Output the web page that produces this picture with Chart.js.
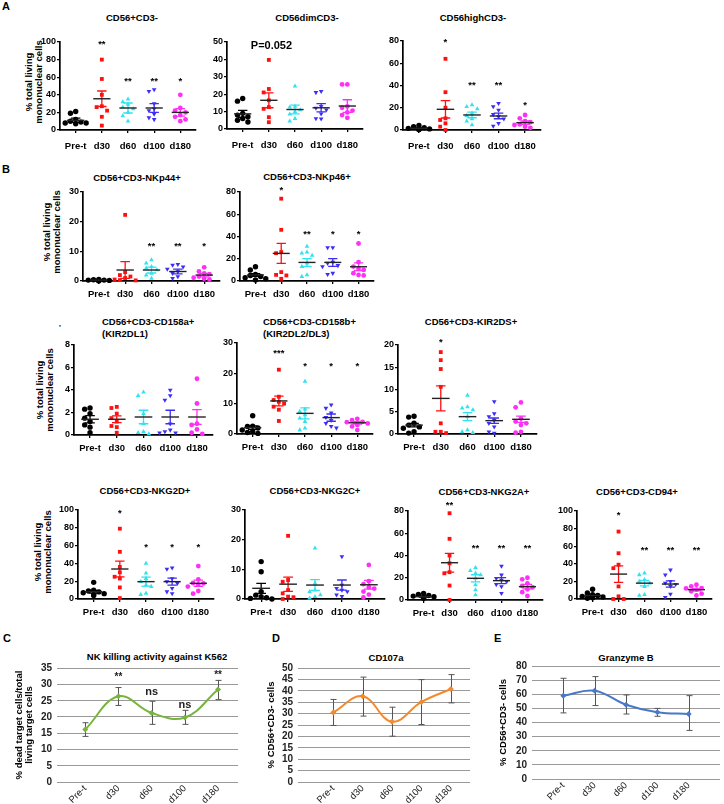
<!DOCTYPE html>
<html>
<head>
<meta charset="utf-8">
<script src="https://cdn.jsdelivr.net/npm/chart.js@4"></script>
<style>
  body { margin: 0; background: #fff; width: 724px; height: 804px; overflow: hidden; position: relative;
         font-family: 'Liberation Sans', Arial, sans-serif; color: #000; }
  canvas { position: absolute; }
  .t { position: absolute; font-weight: bold; font-size: 9.5px; white-space: nowrap; line-height: 12px; }
  .c { transform: translate(-50%, -50%); }
  .yt { position: absolute; font-weight: bold; font-size: 9.5px; white-space: nowrap; text-align: center;
        line-height: 9.5px; transform: translate(-50%, -50%) rotate(-90deg); }
  .let { position: absolute; font-weight: bold; font-size: 11px; }
  .yl { position: absolute; font-weight: bold; font-size: 10px; line-height: 10px; color: #222;
        transform: translate(-100%, -50%); z-index: 5; white-space: nowrap; }
</style>
</head>
<body>
<div class="let" style="left:2px;top:0px">A</div>
<div class="let" style="left:2px;top:163px">B</div>
<div class="let" style="left:3px;top:632px">C</div>
<div class="let" style="left:272px;top:632px">D</div>
<div class="let" style="left:494px;top:632px">E</div>

<div class="t c" style="left:132px;top:18px">CD56+CD3-</div>
<div class="t c" style="left:307px;top:18px">CD56dimCD3-</div>
<div class="t c" style="left:473px;top:18px">CD56highCD3-</div>
<div class="t c" style="left:137px;top:178px">CD56+CD3-NKp44+</div>
<div class="t c" style="left:307px;top:177px">CD56+CD3-NKp46+</div>
<div class="t" style="left:102px;top:316px">CD56+CD3-CD158a+<br>(KIR2DL1)</div>
<div class="t" style="left:263px;top:316px">CD56+CD3-CD158b+<br>(KIR2DL2/DL3)</div>
<div class="t c" style="left:471px;top:322px">CD56+CD3-KIR2DS+</div>
<div class="t c" style="left:145px;top:491px">CD56+CD3-NKG2D+</div>
<div class="t c" style="left:315px;top:491px">CD56+CD3-NKG2C+</div>
<div class="t c" style="left:484px;top:492px">CD56+CD3-NKG2A+</div>
<div class="t c" style="left:637px;top:492px">CD56+CD3-CD94+</div>
<div class="t" style="left:59px;top:322px;font-size:8px">'</div>

<div class="yt" style="left:33px;top:82px">% total living<br>mononuclear cells</div>
<div class="yt" style="left:51px;top:232px">% total living<br>mononuclear cells</div>
<div class="yt" style="left:44px;top:390px">% total living<br>mononuclear cells</div>
<div class="yt" style="left:42px;top:552px">% total living<br>mononuclear cells</div>

<div class="t c" style="left:157px;top:657px">NK killing activity against K562</div>
<div class="t c" style="left:386px;top:658px">CD107a</div>
<div class="t c" style="left:626px;top:658px">Granzyme B</div>

<script>
const days = ['Pre-t', 'd30', 'd60', 'd100', 'd180'];

// A - CD56+CD3-
const cd56Pts = [
  [21, 19, 12, 10, 9, 8, 7, 8],
  [80, 58, 40, 27, 26, 22, 15, 5],
  [35, 32, 29, 26, 24, 20, 16, 10],
  [46, 44, 30, 24, 22, 18, 14, 12],
  [40, 25, 22, 20, 17, 15, 12, 10]
];
const cd56Mean = [11, 35.5, 25, 25, 20];
const cd56Sem = [2.4, 8.8, 5.7, 5, 4.2];
const cd56Stars = ['', '**', '**', '**', '*'];
const cd56StarY = [0, 100, 58, 58, 57];

// A - CD56dimCD3-
const dimPts = [
  [17.5, 16, 9, 8, 7, 6, 5, 4],
  [39.7, 23, 21, 16.5, 12.6, 11.6, 6.8, 3.9],
  [24.6, 13, 12.5, 11, 10, 8.5, 6, 4.5],
  [21.7, 21, 13, 12, 11, 8.7, 6, 5.8],
  [25.6, 25.6, 13, 12.2, 10.6, 9.5, 8, 6.4]
];
const dimMean = [8.7, 16.5, 11.2, 12.2, 13.2];
const dimSem = [2, 4.3, 2.5, 2.4, 3.6];

// A - CD56highCD3-
const highPts = [
  [4, 3, 2, 1.5, 1, 1, 0.5, 0.5],
  [64, 34, 20, 10.5, 9, 6, 3, 0],
  [22.5, 21, 19, 15, 13, 10, 8, 4.5],
  [24, 21, 18, 14, 12, 10, 6, 3.6],
  [13.5, 10.5, 8, 7, 5, 4.5, 3, 2]
];
const highMean = [1.5, 18.6, 13.5, 12.6, 6.6];
const highSem = [0.5, 7.8, 2.5, 2.5, 1.5];
const highStars = ['', '*', '**', '**', '*'];
const highStarY = [0, 81, 42, 42, 24];

// B - NKp44
const nkp44Pts = [
  [0.5, 0.4, 0.3, 0.3, 0.2, 0.2, 0.1, 0.1],
  [22.3, 3, 2, 1.5, 1, 0.5, 0.3, 0.2],
  [7.1, 6, 4.8, 4.3, 3.7, 2.6, 2, 0.9],
  [5.6, 5.4, 4.8, 4, 3.2, 2.6, 1.5, 0.9],
  [4.6, 3.2, 2.6, 2.3, 1.5, 1.1, 0.8, 0.5]
];
const nkp44Mean = [0.3, 3.7, 3.7, 3.2, 2.0];
const nkp44Sem = [0.1, 2.8, 1.0, 0.8, 0.6];
const nkp44Stars = ['', '', '**', '**', '*'];
const nkp44StarY = [0, 0, 12.2, 12.2, 12.2];

// B - NKp46
const nkp46Pts = [
  [12.8, 9.9, 6, 5, 4, 3, 2, 1],
  [74, 46, 26, 25, 8, 5.5, 5, 2],
  [31, 26, 25, 23, 16, 13, 5.4, 4],
  [30, 30, 17, 16, 14, 13, 7, 6],
  [33.7, 17, 13, 11, 10, 7, 5.4, 5]
];
const nkp46Mean = [5.4, 24.8, 16.7, 16.7, 12.8];
const nkp46Sem = [1.3, 9, 3.5, 3.5, 3.5];
const nkp46Stars = ['', '*', '**', '*', '*'];
const nkp46StarY = [0, 83, 44, 44, 44];

// B - CD158a (KIR2DL1)
const kir2dl1Pts = [
  [2.4, 2.3, 1.9, 1.5, 1.2, 0.9, 0.7, 0.2],
  [2.5, 2.4, 1.9, 1.5, 1.2, 0.8, 0.7, 0.2],
  [3.8, 3.5, 1.9, 1.0, 0.3, 0.2, 0.1],
  [4.0, 3.5, 3.1, 1.0, 0.45, 0.3, 0.2, 0.2],
  [5.0, 2.8, 1.0, 0.9, 0.5, 0.2, 0.1]
];
const kir2dl1Mean = [1.4, 1.4, 1.6, 1.6, 1.6];
const kir2dl1Sem = [0.33, 0.3, 0.6, 0.6, 0.65];

// B - CD158b (KIR2DL2/DL3)
const kir2dl23Pts = [
  [6, 2.6, 2.5, 2, 1.3, 0.8, 0.5, 0.2],
  [21.2, 12.3, 11.2, 10.6, 10, 9, 8, 4.3],
  [17.3, 8.2, 7.4, 6.3, 5.2, 4.1, 1.9, 1.3],
  [9.6, 8.5, 7, 5.5, 4.5, 3.5, 2.5, 2],
  [5, 4.6, 4, 3.9, 3.5, 3, 2.5, 1.3]
];
const kir2dl23Mean = [2.1, 10.9, 6.8, 5.4, 3.7];
const kir2dl23Sem = [0.6, 1.6, 1.8, 1.2, 0.4];
const kir2dl23Stars = ['', '***', '*', '*', '*'];
const kir2dl23StarY = [0, 27.2, 22.8, 22.8, 22.8];

// B - KIR2DS
const kir2dsPts = [
  [4, 3.8, 2.4, 2, 1.6, 1.3, 0.5, 0.2],
  [18.4, 16.6, 14.6, 10.6, 2.4, 0.5, 0.5, 0.2],
  [8.7, 6.1, 5.8, 5.4, 3.9, 0.9, 0.5, 0.3],
  [7.3, 4.6, 3.9, 3.1, 2.4, 1.6, 0.5, 0.2],
  [7.1, 6, 3.5, 2.8, 2.4, 2, 0.5, 0.3]
];
const kir2dsMean = [2.0, 8.0, 3.9, 3.0, 3.3];
const kir2dsSem = [0.4, 2.8, 0.9, 0.6, 0.7];
const kir2dsStars = ['', '*', '', '', ''];
const kir2dsStarY = [0, 21.1, 0, 0, 0];

// B - NKG2D
const nkg2dPts = [
  [18.7, 10, 9, 8, 7, 6, 5, 4],
  [79, 53, 36, 30, 25, 23, 13, 1],
  [40, 29, 23, 19.5, 15.7, 14, 6.4, 5],
  [35, 33.7, 23, 19.5, 17.6, 12, 8.2, 6],
  [37, 22, 18, 17.6, 16, 14, 9, 6]
];
const nkg2dMean = [8.2, 33.7, 19.5, 19.5, 17.6];
const nkg2dSem = [1.5, 8.8, 5, 4, 3.5];
const nkg2dStars = ['', '*', '*', '*', '*'];
const nkg2dStarY = [0, 98, 60.7, 60.7, 60.7];

// B - NKG2C
const nkg2cPts = [
  [12.6, 9.2, 2.5, 1.3, 0.8, 0.4, 0.2, 0],
  [21.3, 6.4, 5.8, 3, 1.9, 0.8, 0.6, 0],
  [17.1, 5.3, 3, 2.5, 1.4, 0.8, 0.3],
  [14.3, 4.7, 3.6, 3, 2.5, 1.4, 0.9],
  [11.5, 6, 5, 4, 3.5, 2.5, 1.5, 0.5]
];
const nkg2cMean = [3.6, 5, 4.7, 4.7, 4.8];
const nkg2cSem = [1.7, 2.4, 1.8, 1.7, 1.5];

// B - NKG2A
const nkg2aPts = [
  [6, 5, 4, 3.5, 3, 2.5, 2, 1.5],
  [78, 55, 40, 33, 25, 24, 13, 0],
  [29, 26.3, 24, 22.5, 19.5, 13.5, 9, 4.5],
  [30.5, 22.5, 19.5, 18, 16.5, 14, 12, 6],
  [20, 18.6, 15, 12.6, 11.4, 9.6, 7, 3.6]
];
const nkg2aMean = [3, 33.5, 19.5, 17.4, 12];
const nkg2aSem = [0.5, 8.5, 3.2, 2.7, 2];
const nkg2aStars = ['', '**', '**', '**', '**'];
const nkg2aStarY = [0, 86.8, 48, 48, 48];

// B - CD94
const cd94Pts = [
  [11, 6.8, 5, 4, 3, 2.3, 1.5, 0.8],
  [76.6, 52, 39, 35, 14.3, 3, 0, 0],
  [29.4, 27.5, 22, 20, 18, 14, 5, 4],
  [33, 27.5, 20, 18, 16.6, 14.3, 5.7, 2],
  [16.2, 14.3, 12.4, 12, 10.6, 8.7, 6, 4]
];
const cd94Mean = [4, 28.3, 18, 17, 10.6];
const cd94Sem = [1, 9.4, 3, 3.5, 1.3];
const cd94Stars = ['', '*', '**', '**', '**'];
const cd94StarY = [0, 97.4, 57.7, 57.7, 57.7];

// C, D, E
const killMean = [16.1, 26.3, 21.2, 19.8, 28.4];
const killHi = [18.2, 29, 24.8, 22, 31.2];
const killLo = [14.0, 23.5, 17.7, 17.7, 25.3];
const killMarks = ['', '**', 'ns', 'ns', '**'];
const killMarkY = [0, 32.8, 27.6, 23.5, 33.3];

const cd107Mean = [30.5, 37.6, 26.4, 35.1, 40.8];
const cd107Hi = [36.2, 46, 32.8, 44.9, 47.1];
const cd107Lo = [24.8, 28.9, 20.1, 25.2, 34.7];

const gzbMean = [59, 62.5, 52.6, 47.3, 46.1];
const gzbHi = [71.3, 72.5, 59.5, 50, 59];
const gzbLo = [46.8, 52, 46, 44.4, 34.4];

const colors = ['#000000', '#ff1010', '#2fe3ef', '#3d2ef5', '#ff30f5'];
const shapes = ['circle', 'rect', 'triangle', 'triangle', 'circle'];
const FONT = "'Liberation Sans', Arial, sans-serif";

Chart.defaults.font.family = FONT;
Chart.defaults.animation = false;

// mean line + SEM whiskers + stars
Chart.register({
  id: 'sem',
  afterDatasetsDraw(chart, args, o) {
    if (!o.mean) return;
    const ctx = chart.ctx, x = chart.scales.x, y = chart.scales.y;
    ctx.save();
    o.mean.forEach((m, i) => {
      const cx = x.getPixelForValue(i);
      const hw = x.getPixelForValue(i + 0.33) - cx;
      const cw = x.getPixelForValue(i + 0.18) - cx;
      const y1 = y.getPixelForValue(m + o.sem[i]);
      const y2 = y.getPixelForValue(Math.max(0, m - o.sem[i]));
      ctx.strokeStyle = colors[i];
      ctx.lineWidth = 1.3;
      ctx.beginPath();
      ctx.moveTo(cx, y1); ctx.lineTo(cx, y2);
      ctx.moveTo(cx - cw, y1); ctx.lineTo(cx + cw, y1);
      ctx.moveTo(cx - cw, y2); ctx.lineTo(cx + cw, y2);
      ctx.stroke();
      ctx.strokeStyle = '#222';
      ctx.lineWidth = 1.4;
      ctx.beginPath();
      const my = y.getPixelForValue(m);
      ctx.moveTo(cx - hw, my); ctx.lineTo(cx + hw, my);
      ctx.stroke();
    });
    ctx.fillStyle = '#000';
    ctx.textAlign = 'center';
    ctx.textBaseline = 'middle';
    if (o.stars) {
      ctx.font = 'bold 9.5px ' + FONT;
      o.stars.forEach((s, i) => {
        if (s) ctx.fillText(s, x.getPixelForValue(i), y.getPixelForValue(o.starY[i]) + 2);
      });
    }
    if (o.note) {
      ctx.font = 'bold 11px ' + FONT;
      ctx.fillText(o.note[0], x.getPixelForValue(o.note[1]), y.getPixelForValue(o.note[2]));
    }
    ctx.restore();
  }
});

// error bars and marks for the line charts
Chart.register({
  id: 'errs',
  beforeDatasetsDraw(chart, args, o) {
    if (!o.hi) return;
    const ctx = chart.ctx, x = chart.scales.x, y = chart.scales.y;
    ctx.save();
    ctx.strokeStyle = '#555';
    ctx.lineWidth = 1;
    o.hi.forEach((h, i) => {
      const cx = Math.round(x.getPixelForValue(i)) + 0.5;
      const a = y.getPixelForValue(h), b = y.getPixelForValue(o.lo[i]);
      ctx.beginPath();
      ctx.moveTo(cx, a); ctx.lineTo(cx, b);
      ctx.moveTo(cx - 3, a); ctx.lineTo(cx + 3, a);
      ctx.moveTo(cx - 3, b); ctx.lineTo(cx + 3, b);
      ctx.stroke();
    });
    ctx.restore();
  },
  afterDraw(chart, args, o) {
    if (!o.marks) return;
    const ctx = chart.ctx, x = chart.scales.x, y = chart.scales.y;
    ctx.save();
    ctx.fillStyle = '#222';
    ctx.textBaseline = 'middle';
    ctx.textAlign = 'center';
    o.marks.forEach((s, i) => {
      if (!s) return;
      ctx.font = (s === 'ns' ? 'bold 11px ' : 'bold 10px ') + FONT;
      ctx.fillText(s, x.getPixelForValue(i), y.getPixelForValue(o.markY[i]) + (s === 'ns' ? 0 : 2));
    });
    ctx.restore();
  }
});

function addCanvas(left, top, w, h) {
  const cv = document.createElement('canvas');
  cv.width = w; cv.height = h;
  cv.style.left = left + 'px';
  cv.style.top = top + 'px';
  document.body.appendChild(cv);
  return cv;
}

// spread points sideways like a scatter dot plot
function swarm(vals, range) {
  const placed = [];
  const off = vals.map(() => 0);
  const order = vals.map((v, j) => j).sort((a, b) => vals[b] - vals[a]);
  const cand = [0, -0.2, 0.2, -0.4, 0.4, -0.1, 0.1, -0.3, 0.3];
  order.forEach(j => {
    for (const c of cand) {
      if (placed.every(p => Math.abs(p.y - vals[j]) > range * 0.055 || Math.abs(p.x - c) > 0.19)) {
        off[j] = c;
        break;
      }
    }
    placed.push({ x: off[j], y: vals[j] });
  });
  return off;
}

function dotPanel(g, pts, mean, sem, stars, starY, note) {
  const [ax, top, zero, right, ymax, step, lblPad] = g;
  const padL = 34, padT = 14, padR = 8, xh = 26;
  const cv = addCanvas(ax - padL, top - padT, right - ax + padL + padR, zero - top + padT + xh);
  const axisStyle = {
    grid: { drawOnChartArea: false, drawTicks: true, tickLength: 3, color: '#000', lineWidth: 1.3 },
    border: { color: '#000', width: 1.7 }
  };
  new Chart(cv, {
    type: 'scatter',
    data: {
      datasets: pts.map((vals, i) => {
        const off = swarm(vals, ymax);
        return {
          data: vals.map((v, j) => ({ x: i + off[j], y: v })),
          pointStyle: shapes[i],
          rotation: i === 3 ? 180 : 0,
          pointRadius: i === 4 ? 2.4 : 2.7,
          backgroundColor: colors[i],
          borderColor: colors[i],
          borderWidth: 0,
          clip: false
        };
      })
    },
    options: {
      responsive: false,
      layout: { padding: { top: padT, right: padR, left: 0, bottom: 0 } },
      plugins: {
        legend: { display: false },
        tooltip: { enabled: false },
        sem: { mean: mean, sem: sem, stars: stars, starY: starY, note: note }
      },
      scales: {
        x: {
          type: 'linear', min: -0.6, max: 4.6,
          afterBuildTicks: s => { s.ticks = days.map((d, i) => ({ value: i })); },
          afterFit: s => { s.height = xh; },
          ticks: { callback: v => days[v], autoSkip: false, maxRotation: 0, color: '#000',
                   font: { size: 9.5, weight: 'bold' }, padding: lblPad || 5 },
          ...axisStyle
        },
        y: {
          min: 0, max: ymax,
          afterFit: s => { s.width = padL; },
          ticks: { stepSize: step, autoSkip: false, color: '#000', font: { size: 9, weight: 'bold' }, padding: 1 },
          ...axisStyle
        }
      }
    }
  });
}

// g: plot left, top, zero line, plot right, canvas left (room for the y title)
function linePanel(g, xr, mean, hi, lo, color, ymax, step, yTitle, marks, markY, htmlTicks) {
  const [pl, top, zero, pr, cLeft] = g;
  const padL = pl - cLeft, padT = 10, padR = 2, xh = 24;
  const cTop = top - padT;
  const cv = addCanvas(cLeft, cTop, pr - pl + padL + padR, zero - top + padT + xh);
  const ch = new Chart(cv, {
    type: 'line',
    data: {
      datasets: [{
        data: mean.map((v, i) => ({ x: i, y: v })),
        borderColor: color,
        borderWidth: 2,
        tension: 0.4,
        pointStyle: 'rectRot',
        pointRadius: 3,
        pointBackgroundColor: color,
        pointBorderWidth: 0,
        clip: false
      }]
    },
    options: {
      responsive: false,
      layout: { padding: { top: padT, right: padR, left: 0, bottom: 0 } },
      plugins: {
        legend: { display: false },
        tooltip: { enabled: false },
        errs: { hi: hi, lo: lo, marks: marks, markY: markY }
      },
      scales: {
        x: {
          type: 'linear', min: xr[0], max: xr[1],
          afterBuildTicks: s => { s.ticks = days.map((d, i) => ({ value: i })); },
          afterFit: s => { s.height = xh; },
          ticks: { callback: v => days[v], autoSkip: false, minRotation: 45, maxRotation: 45,
                   color: '#222', font: { size: 9.5 }, padding: 1 },
          grid: { display: false, drawTicks: false, tickLength: 0 },
          border: { display: false }
        },
        y: {
          min: 0, max: ymax,
          afterFit: s => { s.width = padL; },
          title: { display: true, text: yTitle, color: '#000', padding: 0,
                   font: { size: 9.5, weight: 'bold', lineHeight: 1.05 } },
          ticks: { stepSize: step, autoSkip: false, display: !htmlTicks, color: '#222',
                   font: { size: 10, weight: 'bold' }, padding: 5 },
          grid: { color: '#999', lineWidth: 1, drawTicks: false },
          border: { display: false }
        }
      }
    }
  });
  if (htmlTicks) {
    const ys = ch.scales.y;
    ys.ticks.forEach(t => {
      const d = document.createElement('div');
      d.className = 'yl';
      d.textContent = t.value;
      d.style.left = (pl - 5) + 'px';
      d.style.top = (cTop + ys.getPixelForValue(t.value)) + 'px';
      document.body.appendChild(d);
    });
  }
}

linePanel([57, 668, 782, 240, 14], [-0.85, 4.6], killMean, killHi, killLo, '#78b43c', 35, 5,
          ['% dead target cells/total', 'living target cells'], killMarks, killMarkY, true);
linePanel([298, 667, 782, 472, 266], [-1.2, 4.65], cd107Mean, cd107Hi, cd107Lo, '#f28a2e', 50, 5,
          '% CD56+CD3- cells');
linePanel([532, 665, 779, 722, 498], [-1, 5], gzbMean, gzbHi, gzbLo, '#4a78c8', 80, 10,
          '% CD56+CD3- cells');

dotPanel([60, 42, 130, 196, 100, 20, 8], cd56Pts, cd56Mean, cd56Sem, cd56Stars, cd56StarY);
dotPanel([227, 42, 129, 363, 50, 10, 8], dimPts, dimMean, dimSem, null, null, ['P=0.052', 1.1, 48]);
dotPanel([403, 41, 130, 541, 80, 20, 8], highPts, highMean, highSem, highStars, highStarY);

dotPanel([83, 192, 281, 220, 30, 10], nkp44Pts, nkp44Mean, nkp44Sem, nkp44Stars, nkp44StarY);
dotPanel([240, 192, 281, 374, 80, 20], nkp46Pts, nkp46Mean, nkp46Sem, nkp46Stars, nkp46StarY);

dotPanel([74, 345, 435, 213, 8, 2], kir2dl1Pts, kir2dl1Mean, kir2dl1Sem);
dotPanel([237, 343, 434, 373, 30, 10], kir2dl23Pts, kir2dl23Mean, kir2dl23Sem, kir2dl23Stars, kir2dl23StarY);
dotPanel([398, 345, 434, 537, 20, 5], kir2dsPts, kir2dsMean, kir2dsSem, kir2dsStars, kir2dsStarY);

dotPanel([78, 510, 599, 214, 100, 20], nkg2dPts, nkg2dMean, nkg2dSem, nkg2dStars, nkg2dStarY);
dotPanel([245, 510, 599, 385, 30, 10], nkg2cPts, nkg2cMean, nkg2cSem);
dotPanel([408, 511, 600, 543, 80, 20], nkg2aPts, nkg2aMean, nkg2aSem, nkg2aStars, nkg2aStarY);
dotPanel([577, 511, 599, 712, 100, 20], cd94Pts, cd94Mean, cd94Sem, cd94Stars, cd94StarY);
</script>
</body>
</html>
